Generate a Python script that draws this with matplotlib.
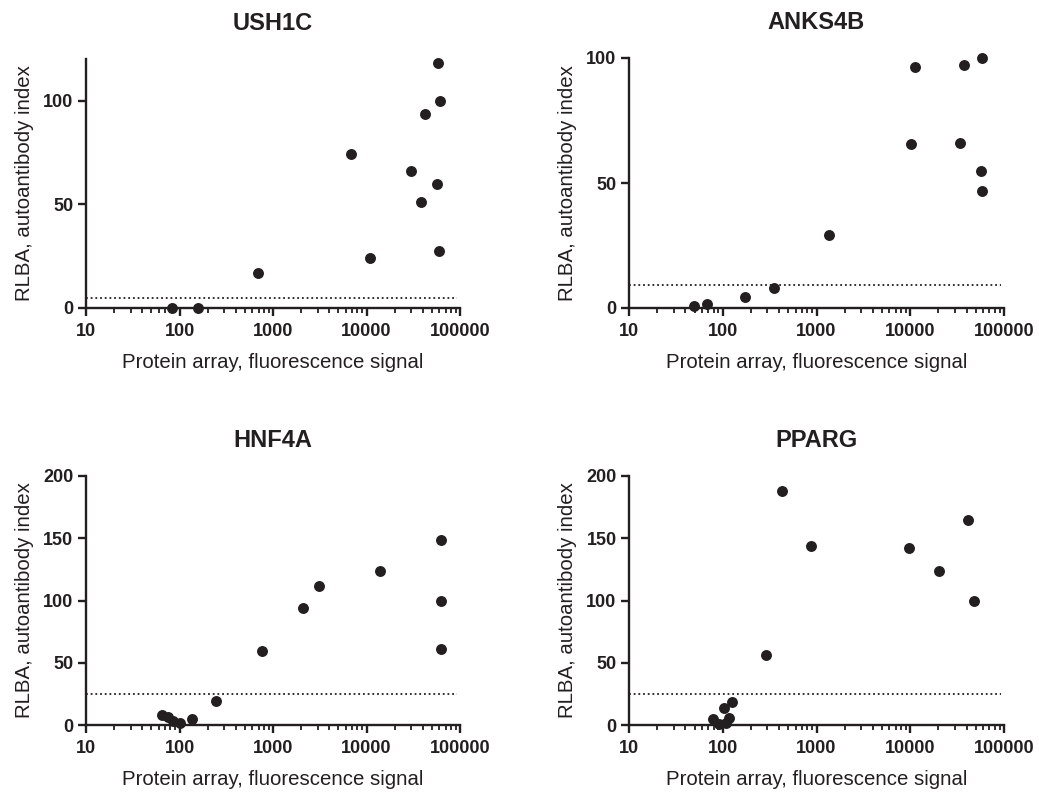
import matplotlib
matplotlib.use("Agg")
import matplotlib.pyplot as plt
import numpy as np

plt.rcParams['font.family'] = ['Liberation Sans', 'DejaVu Sans']

INK = '#231F20'

# ---------------- data ----------------
titles = ["USH1C", "ANKS4B", "HNF4A", "PPARG"]

ush1c_x = [84, 156, 685, 6820, 10900, 29600, 38000, 42300, 56300, 57700, 61000, 59600]
ush1c_y = [0, 0, 16.7, 74.4, 23.9, 66.0, 51.0, 93.3, 59.8, 118.0, 100.0, 27.7]

anks4b_x = [49.5, 68.7, 173, 356, 1365, 10170, 11300, 33900, 37100, 57700, 57200, 58600]
anks4b_y = [0.8, 1.5, 4.3, 8.0, 29.2, 65.5, 96.2, 66.1, 97.1, 100.0, 54.6, 46.9]

hnf4a_x = [65, 75, 86, 100, 137, 245, 762, 2110, 3080, 13900, 62100, 62100, 62100]
hnf4a_y = [7.8, 6.2, 3.6, 1.6, 5.2, 19.4, 59.5, 93.7, 111.6, 123.4, 148.2, 100.0, 61.4]

pparg_x = [78, 92, 108, 104, 117, 126, 288, 430, 869, 9800, 20200, 41500, 47300]
pparg_y = [4.8, 1.2, 1.5, 13.5, 6.0, 18.6, 56.1, 187.7, 143.7, 141.8, 123.6, 165.0, 100.0]

cutoffs = [4.7, 9.2, 24.5, 25.0]
y_tops = [120, 100, 200, 200]
y_ticks = [[0, 50, 100], [0, 50, 100], [0, 50, 100, 150, 200], [0, 50, 100, 150, 200]]
x_ticks = [10, 100, 1000, 10000, 100000]
x_tick_labels = ["10", "100", "1000", "10000", "100000"]

xs = [ush1c_x, anks4b_x, hnf4a_x, pparg_x]
ys = [ush1c_y, anks4b_y, hnf4a_y, pparg_y]

# ---------------- figure ----------------
W, H = 1039, 794
fig = plt.figure(figsize=(W / 100, H / 100), dpi=100)

# axes boxes in pixels: (left, right, top, bottom)
boxes = [(86, 460, 59, 308), (629, 1004, 58, 308),
         (86, 460, 476, 725), (629, 1004, 476, 725)]

minor = [m * 10 ** e for e in range(1, 5) for m in range(2, 10)]

for i in range(4):
    l, r, t, b = boxes[i]
    ax = fig.add_axes([l / W, 1 - b / H, (r - l) / W, (b - t) / H])
    ax.scatter(xs[i], ys[i], s=62, color=INK, zorder=3, clip_on=False,
               linewidths=0)
    ax.hlines(cutoffs[i], 10, 93000, colors=INK, linestyles=(0, (1, 1.6)),
              linewidth=1.3)
    ax.set_xscale('log')
    ax.set_xlim(10, 100000)
    ax.set_ylim(0, y_tops[i])
    ax.set_xticks(x_ticks)
    ax.set_xticklabels(x_tick_labels)
    ax.set_xticks(minor, minor=True)
    ax.xaxis.set_minor_formatter(matplotlib.ticker.NullFormatter())
    ax.set_yticks(y_ticks[i])
    ax.set_yticklabels([str(v) for v in y_ticks[i]])
    ax.yaxis.set_minor_locator(matplotlib.ticker.NullLocator())
    for s in ['top', 'right']:
        ax.spines[s].set_visible(False)
    for s in ['left', 'bottom']:
        ax.spines[s].set_linewidth(1.7)
        ax.spines[s].set_color(INK)
    ax.tick_params(axis='both', which='major', length=6, width=1.7,
                   color=INK, labelsize=13, labelcolor=INK)
    ax.tick_params(axis='x', which='major', pad=5)
    ax.tick_params(axis='y', which='major', pad=3)
    ax.tick_params(axis='x', which='minor', length=3.5, width=1.3, color=INK)
    for lab in ax.get_xticklabels() + ax.get_yticklabels():
        lab.set_fontweight('bold')
    ax.set_title(titles[i], fontsize=17, fontweight='bold', color=INK, pad=21)
    ax.set_xlabel("Protein array, fluorescence signal", fontsize=14.7,
                  color=INK, labelpad=9)
    ax.set_ylabel("RLBA, autoantibody index", fontsize=14.7, color=INK,
                  labelpad=7)

fig.savefig("out.png", dpi=100)
